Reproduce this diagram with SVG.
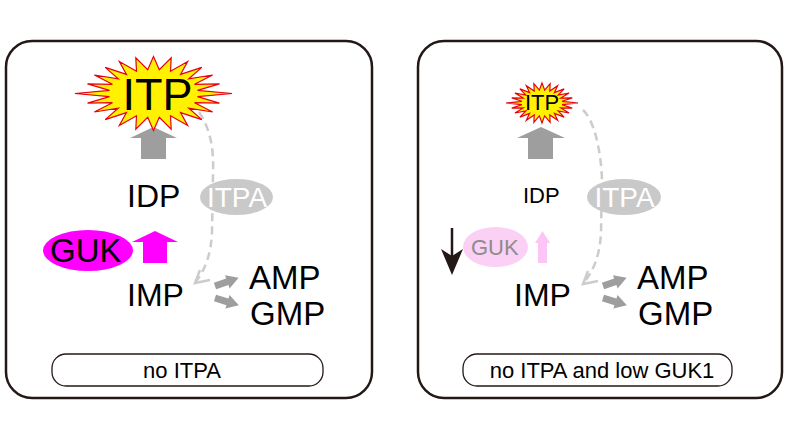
<svg xmlns="http://www.w3.org/2000/svg" width="790" height="439" viewBox="0 0 790 439">
<style>
text{font-family:"Liberation Sans",Arial,sans-serif}
.panel{fill:#fff;stroke:#231815;stroke-width:2.5}
.lbl{fill:#fff;stroke:#231815;stroke-width:1.3}
.blk{fill:#000}
.burst{fill:#fff100;stroke:#e60012;stroke-width:1.2}
.gray{fill:#9e9e9e}
.dash{fill:none;stroke:#cccccc;stroke-width:2.5;stroke-dasharray:8 5}
.head{fill:none;stroke:#cccccc;stroke-width:2.5}
</style>
<defs>
<polygon id="star" vector-effect="non-scaling-stroke" points="115,0 64.4,8.5 96.6,25.9 60.1,24.9 86.6,50 51.6,39.6 70.7,70.7 39.6,51.6 50,86.6 24.9,60.1 25.9,96.6 8.5,64.4 0,100 -8.5,64.4 -25.9,96.6 -24.9,60.1 -50,86.6 -39.6,51.6 -70.7,70.7 -51.6,39.6 -86.6,50 -60.1,24.9 -96.6,25.9 -64.4,8.5 -115,0 -64.4,-8.5 -96.6,-25.9 -60.1,-24.9 -86.6,-50 -51.6,-39.6 -70.7,-70.7 -39.6,-51.6 -50,-86.6 -24.9,-60.1 -25.9,-96.6 -8.5,-64.4 0,-100 8.5,-64.4 25.9,-96.6 24.9,-60.1 50,-86.6 39.6,-51.6 70.7,-70.7 51.6,-39.6 86.6,-50 60.1,-24.9 96.6,-25.9 64.4,-8.5"/>
<polygon id="small-arrow" points="0,-3.5 13,-3.5 13,-7 25,0 13,7 13,3.5 0,3.5"/>
</defs>

<g id="panel-left">
<rect class="panel" x="6" y="41" width="366" height="357" rx="26"/>
</g>
<g id="panel-right">
<rect class="panel" x="418" y="41" width="364" height="357" rx="26"/>
</g>

<g id="connectors">
<path class="dash" d="M199,112 C211,130 214,150 213,175 L212,232 C211,255 205,270 195,283"/>
<polyline class="head" points="200,270 195,283 210,280"/>
<path class="dash" d="M583,110 C594,120 601,150 602,180 L601,232 C600,255 594,270 583,284"/>
<polyline class="head" points="588,271 583,284 598,281"/>
<use href="#small-arrow" class="gray" transform="translate(215,286) rotate(-19)"/>
<use href="#small-arrow" class="gray" transform="translate(215,298) rotate(17)"/>
<use href="#small-arrow" class="gray" transform="translate(603,286) rotate(-19)"/>
<use href="#small-arrow" class="gray" transform="translate(603,298) rotate(17)"/>
<polygon class="gray" points="130,138 153.5,127 177,138 166,138 166,159 141,159 141,138"/>
<polygon class="gray" points="517,138 541,127 565,138 553,138 553,159 528,159 528,138"/>
<polygon fill="#ff00ff" points="132,242 155,231 178,242 167,242 167,263 143,263 143,242"/>
<polygon fill="#fcc5f5" points="535,243 542.5,231 550,243 547,243 547,263 538,263 538,243"/>
<line x1="452" y1="228" x2="452" y2="257" stroke="#231815" stroke-width="2.5"/>
<polygon fill="#231815" points="452,275 441,249 452,256 463,249"/>
</g>

<g id="itp-left">
<use href="#star" class="burst" transform="translate(153.5,93.5) scale(0.683,0.37)"/>
<text x="157.5" y="110" font-size="45" text-anchor="middle" class="blk">ITP</text>
</g>
<g id="itp-right">
<use href="#star" class="burst" transform="translate(542,103) scale(0.313,0.2)"/>
<text x="542" y="110" font-size="22" text-anchor="middle" class="blk">ITP</text>
</g>

<g id="idp-left"><text x="127" y="207" font-size="32" class="blk">IDP</text></g>
<g id="idp-right"><text x="523" y="203" font-size="22" class="blk">IDP</text></g>

<g id="itpa-left">
<ellipse cx="236.5" cy="197" rx="36.5" ry="18" fill="#c9c9c9"/>
<text x="237" y="207" font-size="28" text-anchor="middle" fill="#fff">ITPA</text>
</g>
<g id="itpa-right">
<ellipse cx="624" cy="197" rx="37" ry="18" fill="#c9c9c9"/>
<text x="624.5" y="207" font-size="28" text-anchor="middle" fill="#fff">ITPA</text>
</g>

<g id="guk-left">
<ellipse cx="88" cy="250.5" rx="45" ry="20.5" fill="#ff00ff"/>
<text x="50" y="262" font-size="33" class="blk">GUK</text>
</g>
<g id="guk-right">
<ellipse cx="495.5" cy="247" rx="32.5" ry="20" fill="#fbd0f5"/>
<text x="471" y="255" font-size="22" fill="#8c8c8c">GUK</text>
</g>

<g id="imp-left"><text x="127" y="306" font-size="32" class="blk">IMP</text></g>
<g id="imp-right"><text x="514" y="306" font-size="32" class="blk">IMP</text></g>
<g id="amp-left"><text x="249" y="289" font-size="33" class="blk">AMP</text></g>
<g id="gmp-left"><text x="250" y="325" font-size="33" class="blk">GMP</text></g>
<g id="amp-right"><text x="637" y="289" font-size="33" class="blk">AMP</text></g>
<g id="gmp-right"><text x="638" y="325" font-size="33" class="blk">GMP</text></g>

<g id="label-left">
<rect class="lbl" x="52" y="354" width="271" height="32" rx="14"/>
<text x="182" y="378" font-size="22" text-anchor="middle" class="blk">no ITPA</text>
</g>
<g id="label-right">
<rect class="lbl" x="463" y="354" width="269" height="32" rx="14"/>
<text x="602" y="378" font-size="22" text-anchor="middle" class="blk">no ITPA and low GUK1</text>
</g>
</svg>
